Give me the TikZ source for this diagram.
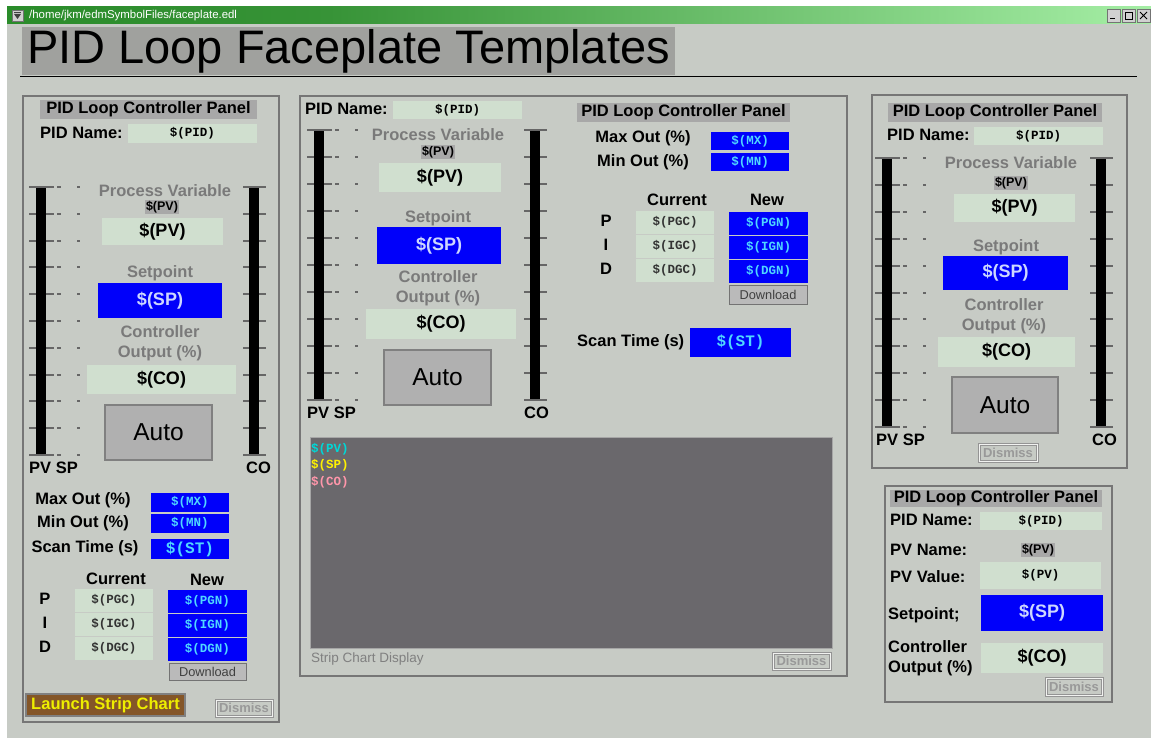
\documentclass[tikz,border=0pt]{standalone}
\usepackage{fontspec}
\setmainfont{Liberation Sans}
\setmonofont{Liberation Mono}
\usepackage{tikz}

\definecolor{winbg}{RGB}{199,203,197}
\definecolor{bardark}{RGB}{42,140,42}
\definecolor{barlight}{RGB}{165,238,165}
\definecolor{titlegray}{RGB}{160,161,158}
\definecolor{hdrgray}{RGB}{168,168,168}
\definecolor{panelgray}{RGB}{118,118,118}
\definecolor{labelgray}{RGB}{122,122,122}
\definecolor{fieldgreen}{RGB}{208,223,207}
\definecolor{pidblue}{RGB}{0,0,250}
\definecolor{cyantext}{RGB}{80,215,255}
\definecolor{sptext}{RGB}{205,215,255}
\definecolor{autogray}{RGB}{176,176,176}
\definecolor{chartgray}{RGB}{106,104,108}
\definecolor{launchbrown}{RGB}{132,86,40}
\definecolor{launchyellow}{RGB}{238,238,0}
\definecolor{pvteal}{RGB}{0,215,215}
\definecolor{copink}{RGB}{255,150,170}

% green window title bar, dark on the left and fading out to the right
% (only 25bp..75bp of the shading ends up inside the path)
\pgfdeclarehorizontalshading{titlebar}{100bp}{color(0bp)=(bardark); color(25bp)=(bardark); color(39bp)=(bardark!94!white); color(75bp)=(barlight); color(100bp)=(barlight)}

\tikzset{
  box/.style 2 args={anchor=north west, minimum width=#1, minimum height=#2, inner sep=0pt, outer sep=0pt},
  panel/.style={draw=panelgray, line width=2.5pt},
  hdr/.style={fill=hdrgray, font=\fontsize{16.5}{16.5}\selectfont\bfseries},
  lbl/.style={inner sep=0pt, font=\fontsize{16.5}{19.5}\selectfont\bfseries},
  glbl/.style={lbl, text=labelgray},
  pvtag/.style={fill=hdrgray, inner sep=1pt, font=\fontsize{12.5}{12.5}\selectfont\bfseries},
  field/.style={fill=fieldgreen},
  bluefield/.style={fill=pidblue},
  mono/.style={font=\fontsize{12.5}{12.5}\selectfont\ttfamily\bfseries},
  bigmono/.style={font=\fontsize{16}{16}\selectfont\ttfamily\bfseries},
  bigval/.style={font=\fontsize{18}{18}\selectfont\bfseries},
  autobtn/.style={fill=autogray, draw=gray, line width=1.2pt, font=\fontsize{24.5}{24.5}\selectfont},
  dlbtn/.style={fill=black!27, draw=black!55, line width=1pt, text=black!75, font=\fontsize{12.8}{12.8}\selectfont},
  dismiss/.style={draw=black!42, line width=1.2pt, double=white!75!winbg, double distance=0.6pt, text=black!40, font=\fontsize{13}{13}\selectfont\bfseries},
  tick/.style={draw=black!60, line width=2pt},
  bar/.style={fill=black},
  winbtn/.style={fill=black!18, draw=black!55, line width=0.8pt}
}

\begin{document}
\begin{tikzpicture}[x=1pt, y=-1pt]
  \useasboundingbox (0,0) rectangle (1151,738);

  % Window background and title bar
  \fill[white] (0,0) rectangle (1151,738);
  \fill[winbg] (7,7) rectangle (1151,738);
  \shade[shading=titlebar] (7,7) rectangle (1151,24);
  \node[winbtn, box={11}{11}] (menu) at (12,10) {};
  \draw[black!75, line width=0.8pt] (14,12.5) -- (21,12.5);
  \fill[black!75] (14,14) -- (21,14) -- (17.5,19) -- cycle;
  \node[anchor=west, inner sep=0pt, text=white, font=\fontsize{11.4}{11.4}\selectfont] (path) at (29,15.5) {/home/jkm/edmSymbolFiles/faceplate.edl};
  \node[winbtn, box={13}{13}] (minbtn) at (1107,9) {};
  \node[winbtn, box={13}{13}] (maxbtn) at (1122,9) {};
  \node[winbtn, box={13}{13}] (closebtn) at (1137,9) {};
  \draw[line width=1pt] (1110,19) -- (1115,19);                   % minimize
  \draw[line width=0.8pt] (1125,12) rectangle (1132,19);          % maximize
  \draw[line width=0.9pt] (1140,12) -- (1147,19) (1147,12) -- (1140,19); % close

  % Page title
  \node[fill=titlegray, box={653}{48}, font=\fontsize{47}{47}\selectfont] (title) at (22,27) {PID Loop Faceplate Templates};
  \draw[line width=1.5pt] (20,76.5) -- (1137,76.5);

  % Panel outlines
  \draw[panel] (23,96) rectangle (279,722);   % full panel
  \draw[panel] (300,96) rectangle (847,676);  % panel with strip chart
  \draw[panel] (872,95) rectangle (1127,468); % meter panel
  \draw[panel] (885,486) rectangle (1112,702); % small panel

  % Meters: ticks first, then the black bars over them
  \foreach \bx/\cx/\mtop/\mgap in {36/249/187/26.8, 314/530/130/27, 882/1096/158/26.9} {
    \foreach \i in {0,...,10} {
      \pgfmathsetmacro{\ty}{\mtop+\mgap*\i}
      \draw[tick] ({\bx-7},\ty) -- ({\bx+18},\ty);
      \draw[tick] ({\bx+21},\ty) -- ({\bx+25},\ty);
      \draw[tick] ({\bx+41},\ty) -- ({\bx+44},\ty);
      \draw[tick] ({\cx-6},\ty) -- ({\cx+17},\ty);
    }
    \fill[bar] (\bx,{\mtop+1.5}) rectangle ({\bx+10},{\mtop+10*\mgap-1.5});
    \fill[bar] (\cx,{\mtop+1.5}) rectangle ({\cx+10},{\mtop+10*\mgap-1.5});
  }

  % Left panel
  \node[hdr, box={217}{19}] (lHead) at (40,100) {PID Loop Controller Panel};
  \node[lbl, anchor=west] (lPidLbl) at (40,133) {PID Name:};
  \node[field, mono, box={129}{19}] (lPid) at (128,124) {\$(PID)};
  \node[lbl, anchor=west] (lPvSp) at (29,468) {PV SP};
  \node[lbl, anchor=west] (lCoLbl) at (246,468) {CO};
  \node[glbl] (lPvTitle) at (165,191) {Process Variable};
  \node[pvtag] (lPvTag) at (162,207) {\$(PV)};
  \node[field, bigval, box={121}{27}] (lPv) at (102,218) {\$(PV)};
  \node[glbl] (lSpTitle) at (160,273) {Setpoint};
  \node[bluefield, bigval, text=sptext, box={124}{35}] (lSp) at (98,283) {\$(SP)};
  \node[glbl, align=center] (lCoTitle) at (160,343) {Controller\\Output (\%)};
  \node[field, bigval, box={149}{29}] (lCo) at (87,365) {\$(CO)};
  \node[autobtn, box={107}{55}] (lAuto) at (105,405) {Auto};
  \node[lbl] (lMaxLbl) at (83,500) {Max Out (\%)};
  \node[lbl] (lMinLbl) at (83,523) {Min Out (\%)};
  \node[lbl] (lScanLbl) at (85,548) {Scan Time (s)};
  \node[bluefield, mono, text=cyantext, box={78}{19}] (lMx) at (151,493) {\$(MX)};
  \node[bluefield, mono, text=cyantext, box={78}{19}] (lMn) at (151,514) {\$(MN)};
  \node[bluefield, bigmono, text=cyantext, box={78}{20}] (lSt) at (151,539) {\$(ST)};
  \node[lbl] (lCurLbl) at (116,579) {Current};
  \node[lbl] (lNewLbl) at (207,580) {New};
  \node[lbl] (lP) at (45,599) {P};
  \node[lbl] (lI) at (45,623) {I};
  \node[lbl] (lD) at (45,647) {D};
  \node[field, mono, text=black!80, box={78}{23}] (lPgc) at (75,589) {\$(PGC)};
  \node[field, mono, text=black!80, box={78}{23}] (lIgc) at (75,613) {\$(IGC)};
  \node[field, mono, text=black!80, box={78}{23}] (lDgc) at (75,637) {\$(DGC)};
  \node[bluefield, mono, text=cyantext, box={79}{23}] (lPgn) at (168,590) {\$(PGN)};
  \node[bluefield, mono, text=cyantext, box={79}{23}] (lIgn) at (168,614) {\$(IGN)};
  \node[bluefield, mono, text=cyantext, box={79}{23}] (lDgn) at (168,638) {\$(DGN)};
  \node[dlbtn, box={77}{17}] (lDownload) at (169,663) {Download};
  \node[fill=launchbrown, draw=black!50, line width=1.5pt, text=launchyellow, box={159}{22}, font=\fontsize{16.5}{16.5}\selectfont\bfseries] (lLaunch) at (26,694) {Launch Strip Chart};
  \node[dismiss, box={56}{16}] (lDismiss) at (216,700) {Dismiss};

  % Middle panel: meters and values
  \node[lbl, anchor=west] (mPidLbl) at (305,109) {PID Name:};
  \node[field, mono, box={129}{18}] (mPid) at (393,101) {\$(PID)};
  \node[lbl, anchor=west] (mPvSp) at (307,413) {PV SP};
  \node[lbl, anchor=west] (mCoLbl) at (524,413) {CO};
  \node[glbl] (mPvTitle) at (438,135) {Process Variable};
  \node[pvtag] (mPvTag) at (438,152) {\$(PV)};
  \node[field, bigval, box={122}{29}] (mPv) at (379,163) {\$(PV)};
  \node[glbl] (mSpTitle) at (438,218) {Setpoint};
  \node[bluefield, bigval, text=sptext, box={124}{37}] (mSp) at (377,227) {\$(SP)};
  \node[glbl, align=center] (mCoTitle) at (438,288) {Controller\\Output (\%)};
  \node[field, bigval, box={150}{30}] (mCo) at (366,309) {\$(CO)};
  \node[autobtn, box={107}{55}] (mAuto) at (384,350) {Auto};

  % Middle panel: tuning values
  \node[hdr, box={213}{19}] (mHead) at (577,103) {PID Loop Controller Panel};
  \node[lbl] (mMaxLbl) at (643,138) {Max Out (\%)};
  \node[lbl] (mMinLbl) at (643,162) {Min Out (\%)};
  \node[bluefield, mono, text=cyantext, box={78}{18}] (mMx) at (711,132) {\$(MX)};
  \node[bluefield, mono, text=cyantext, box={78}{18}] (mMn) at (711,153) {\$(MN)};
  \node[lbl] (mCurLbl) at (677,200) {Current};
  \node[lbl] (mNewLbl) at (767,200) {New};
  \node[lbl] (mP) at (606,221) {P};
  \node[lbl] (mI) at (606,245) {I};
  \node[lbl] (mD) at (606,269) {D};
  \node[field, mono, text=black!80, box={78}{23}] (mPgc) at (636,211) {\$(PGC)};
  \node[field, mono, text=black!80, box={78}{23}] (mIgc) at (636,235) {\$(IGC)};
  \node[field, mono, text=black!80, box={78}{23}] (mDgc) at (636,259) {\$(DGC)};
  \node[bluefield, mono, text=cyantext, box={79}{23}] (mPgn) at (729,212) {\$(PGN)};
  \node[bluefield, mono, text=cyantext, box={79}{23}] (mIgn) at (729,236) {\$(IGN)};
  \node[bluefield, mono, text=cyantext, box={79}{23}] (mDgn) at (729,260) {\$(DGN)};
  \node[dlbtn, box={78}{19}] (mDownload) at (729,285) {Download};
  \node[lbl, anchor=west] (mScanLbl) at (577,342) {Scan Time (s)};
  \node[bluefield, bigmono, text=cyantext, box={101}{29}] (mSt) at (690,328) {\$(ST)};

  % Strip chart
  \node[fill=chartgray, draw=black!35, line width=0.8pt, box={522}{211}] (chart) at (310,437) {};
  \node[mono, text=pvteal, anchor=west, inner sep=0pt] (cPv) at (311,449) {\$(PV)};
  \node[mono, text=yellow, anchor=west, inner sep=0pt] (cSp) at (311,465) {\$(SP)};
  \node[mono, text=copink, anchor=west, inner sep=0pt] (cCo) at (311,482) {\$(CO)};
  \node[anchor=west, inner sep=0pt, text=black!50, font=\fontsize{13.5}{13.5}\selectfont] (chartLbl) at (311,659) {Strip Chart Display};
  \node[dismiss, box={57}{16}] (mDismiss) at (773,653) {Dismiss};

  % Right meter panel
  \node[hdr, box={214}{19}] (rHead) at (888,103) {PID Loop Controller Panel};
  \node[lbl, anchor=west] (rPidLbl) at (887,135) {PID Name:};
  \node[field, mono, box={129}{18}] (rPid) at (974,127) {\$(PID)};
  \node[lbl, anchor=west] (rPvSp) at (876,440) {PV SP};
  \node[lbl, anchor=west] (rCoLbl) at (1092,440) {CO};
  \node[glbl] (rPvTitle) at (1011,163) {Process Variable};
  \node[pvtag] (rPvTag) at (1011,183) {\$(PV)};
  \node[field, bigval, box={121}{28}] (rPv) at (954,194) {\$(PV)};
  \node[glbl] (rSpTitle) at (1006,247) {Setpoint};
  \node[bluefield, bigval, text=sptext, box={125}{34}] (rSp) at (943,256) {\$(SP)};
  \node[glbl, align=center] (rCoTitle) at (1004,316) {Controller\\Output (\%)};
  \node[field, bigval, box={137}{30}] (rCo) at (938,337) {\$(CO)};
  \node[autobtn, box={106}{56}] (rAuto) at (952,377) {Auto};
  \node[dismiss, box={58}{17}] (rDismiss) at (979,444) {Dismiss};

  % Small panel
  \node[hdr, box={212}{17}] (sHead) at (890,490) {PID Loop Controller Panel};
  \node[lbl, anchor=west] (sPidLbl) at (890,520) {PID Name:};
  \node[field, mono, box={122}{18}] (sPid) at (980,512) {\$(PID)};
  \node[lbl, anchor=west] (sPvNameLbl) at (890,550) {PV Name:};
  \node[pvtag] (sPvTag) at (1038,550) {\$(PV)};
  \node[lbl, anchor=west] (sPvValLbl) at (890,577) {PV Value:};
  \node[field, mono, box={121}{27}] (sPv) at (980,562) {\$(PV)};
  \node[lbl, anchor=west] (sSpLbl) at (888,615) {Setpoint;};
  \node[bluefield, bigval, text=sptext, box={122}{36}] (sSp) at (981,595) {\$(SP)};
  \node[lbl, anchor=west, align=left] (sCoLbl) at (888,658) {Controller\\Output (\%)};
  \node[field, bigval, box={122}{30}] (sCo) at (981,643) {\$(CO)};
  \node[dismiss, box={56}{17}] (sDismiss) at (1046,678) {Dismiss};
\end{tikzpicture}
\end{document}
